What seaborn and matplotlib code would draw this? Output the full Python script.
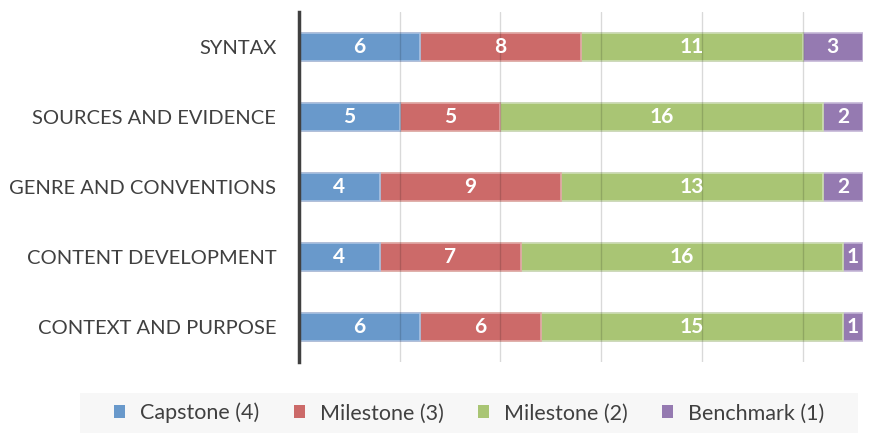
import matplotlib
matplotlib.use("Agg")
import matplotlib.pyplot as plt
import matplotlib.patches as mpatches
import seaborn as sns
import numpy as np
import pandas as pd

categories = ["SYNTAX", "SOURCES AND EVIDENCE", "GENRE AND CONVENTIONS",
              "CONTENT DEVELOPMENT", "CONTEXT AND PURPOSE"]
series_names = ["Capstone (4)", "Milestone (3)", "Milestone (2)", "Benchmark (1)"]
capstone4 = [6, 5, 4, 4, 6]
milestone3 = [8, 5, 9, 7, 6]
milestone2 = [11, 16, 13, 16, 15]
benchmark1 = [3, 2, 2, 1, 1]

fills = ["#6999CB", "#CC6A69", "#A9C574", "#957AB1"]
edges = ["#A9C3E2", "#E3A9A8", "#CFDFB6", "#C3B5D6"]

sns.set_theme(style="white")
plt.rcParams['font.family'] = ['Lato', 'DejaVu Sans']

fig = plt.figure(figsize=(8.94, 4.33), dpi=100)
ax = fig.add_axes([0.3345, 0.164, 0.6308, 0.8083])

values = np.array([capstone4, milestone3, milestone2, benchmark1], dtype=float)
cum = np.cumsum(values, axis=0)

for i in range(len(series_names) - 1, -1, -1):
    df = pd.DataFrame({"cat": categories, "val": cum[i]})
    sns.barplot(data=df, x="val", y="cat", orient="h", color=fills[i],
                width=0.4, edgecolor=edges[i], linewidth=1.2, saturation=1,
                ax=ax, zorder=2)

# labels
for i in range(len(series_names)):
    for j in range(len(categories)):
        start = cum[i][j] - values[i][j]
        ax.text(start + values[i][j] / 2, j, f"{int(values[i][j])}",
                ha="center", va="center", color="white", fontsize=15,
                fontweight="bold", zorder=5)

ax.set_xlim(0, 28)
ax.set_ylim(4.5, -0.5)
for xv in [5, 10, 15, 20, 25]:
    ax.axvline(xv, color="black", alpha=0.15, linewidth=1, zorder=3)

ax.set_xticks([])
ax.set_xlabel("")
ax.set_ylabel("")
for s in ["top", "right", "bottom"]:
    ax.spines[s].set_visible(False)
ax.spines["left"].set_color("#404040")
ax.spines["left"].set_linewidth(2.5)
ax.tick_params(axis="y", length=0, pad=16.5, labelsize=14.5, labelcolor="#404040")

# legend background
bg = mpatches.Rectangle((0.0895, 0.0), 0.870, 0.092, transform=fig.transFigure,
                        facecolor="#F7F7F7", edgecolor="none", zorder=0)
fig.patches.append(bg)
handles = [mpatches.Patch(facecolor=fills[i], edgecolor="none", label=series_names[i])
           for i in range(len(series_names))]
leg = fig.legend(handles=handles, loc="center", bbox_to_anchor=(0.525, 0.046),
                 ncol=4, frameon=False, fontsize=15.5, handlelength=0.5,
                 handleheight=0.55, handletextpad=0.7, columnspacing=1.6,
                 labelcolor="#404040")

fig.savefig("out.png", dpi=100)
